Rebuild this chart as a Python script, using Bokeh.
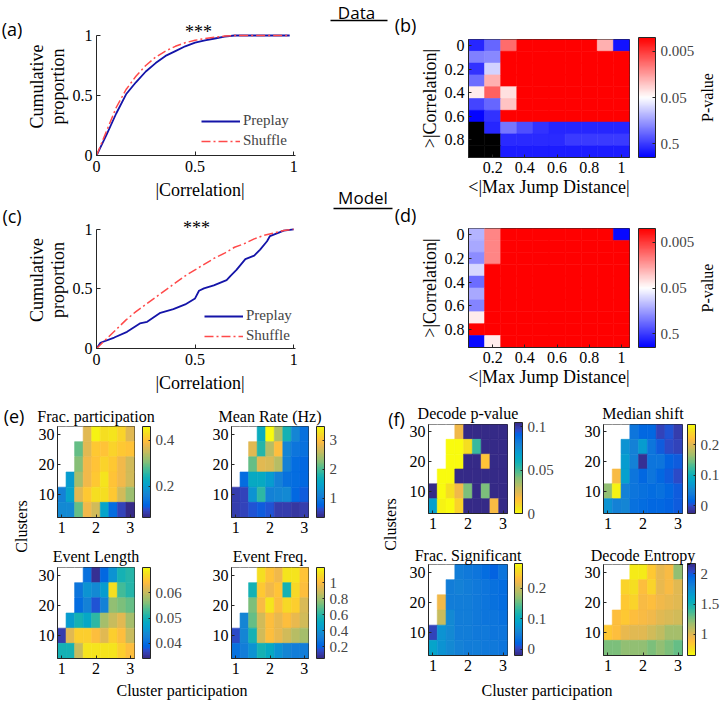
import math
import numpy as np
from bokeh.plotting import figure
from bokeh.layouts import row, column
from bokeh.models import (ColumnDataSource, LinearColorMapper, ColorBar, FixedTicker,
                          Label, Legend, LegendItem, Arrow, Range1d)
from bokeh.embed import file_html
from bokeh.resources import INLINE

nan = float("nan")

# ---------------- data ----------------
# (a) Data: cumulative distributions of |correlation|
a_preplay_x = [0, 0.05, 0.1, 0.15, 0.2, 0.25, 0.3, 0.35, 0.4, 0.45, 0.5, 0.55, 0.6, 0.65, 0.7, 0.8, 0.9, 0.98]
a_preplay_y = [0, 0.17, 0.35, 0.51, 0.61, 0.70, 0.77, 0.83, 0.87, 0.91, 0.94, 0.96, 0.975, 0.99, 1.0, 1.0, 1.0, 1.0]
a_shuffle_x = [0, 0.05, 0.1, 0.15, 0.2, 0.25, 0.3, 0.35, 0.4, 0.45, 0.5, 0.55, 0.6, 0.65, 0.7, 0.8, 0.9, 0.98]
a_shuffle_y = [0, 0.20, 0.40, 0.55, 0.66, 0.75, 0.82, 0.87, 0.91, 0.94, 0.96, 0.975, 0.985, 0.995, 1.0, 1.0, 1.0, 1.0]

# (c) Model
c_preplay_x = [0, 0.02, 0.09, 0.155, 0.22, 0.257, 0.324, 0.39, 0.45, 0.50, 0.52, 0.545, 0.595, 0.66,
               0.68, 0.71, 0.755, 0.80, 0.83, 0.865, 0.88, 0.915, 0.95, 1.0]
c_preplay_y = [0, 0.048, 0.092, 0.14, 0.21, 0.224, 0.30, 0.33, 0.37, 0.42, 0.485, 0.505, 0.53, 0.574,
               0.61, 0.66, 0.75, 0.78, 0.83, 0.90, 0.944, 0.966, 0.99, 1.0]
c_shuffle_x = [0, 0.05, 0.1, 0.15, 0.2, 0.25, 0.3, 0.35, 0.4, 0.45, 0.5, 0.55, 0.6, 0.65, 0.7, 0.75, 0.8,
               0.85, 0.9, 0.95, 1.0]
c_shuffle_y = [0, 0.08, 0.16, 0.24, 0.31, 0.37, 0.43, 0.49, 0.55, 0.61, 0.66, 0.71, 0.76, 0.80, 0.85,
               0.88, 0.92, 0.95, 0.97, 0.99, 1.0]

cdf_ticks = [0, 0.5, 1]
cdf_tick_labels = ["0", "0.5", "1"]

# (b), (d) p-value grids: rows = >|Correlation| threshold, cols = <|Max Jump Distance| threshold
jump_thresholds = [0.1, 0.2, 0.3, 0.4, 0.5, 0.6, 0.7, 0.8, 0.9, 1.0]
corr_thresholds = [0.0, 0.1, 0.2, 0.3, 0.4, 0.5, 0.6, 0.7, 0.8, 0.9]
jump_ticks = [0.2, 0.4, 0.6, 0.8, 1.0]
jump_tick_labels = ["0.2", "0.4", "0.6", "0.8", "1"]
corr_ticks = [0.0, 0.2, 0.4, 0.6, 0.8]
corr_tick_labels = ["0", "0.2", "0.4", "0.6", "0.8"]
pval_ticks = [0.5, 0.05, 0.005]
pval_tick_labels = ["0.5", "0.05", "0.005"]

b_pvalues = [
    [0.63, 0.30, 0.009, 0.001, 0.001, 0.001, 0.001, 0.001, 0.020, 0.80],
    [0.22, 0.20, 0.001, 0.001, 0.001, 0.001, 0.001, 0.001, 0.001, 0.001],
    [0.55, 0.085, 0.001, 0.001, 0.001, 0.001, 0.001, 0.001, 0.001, 0.001],
    [0.28, 0.020, 0.001, 0.001, 0.001, 0.001, 0.001, 0.001, 0.001, 0.001],
    [0.040, 0.008, 0.035, 0.001, 0.001, 0.001, 0.001, 0.001, 0.001, 0.001],
    [0.45, 0.30, 0.025, 0.001, 0.001, 0.001, 0.001, 0.001, 0.001, 0.001],
    [0.95, 0.55, 0.001, 0.001, 0.001, 0.001, 0.001, 0.001, 0.001, 0.001],
    [nan, 0.63, 0.25, 0.40, 0.55, 0.63, 0.63, 0.63, 0.63, 0.63],
    [nan, nan, 0.60, 0.60, 0.60, 0.60, 0.50, 0.50, 0.50, 0.50],
    [nan, nan, 0.72, 0.72, 0.72, 0.72, 0.72, 0.72, 0.72, 0.72],
]
d_pvalues = [
    [0.12, 0.012, 0.001, 0.001, 0.001, 0.001, 0.001, 0.001, 0.001, 0.90],
    [0.14, 0.012, 0.001, 0.001, 0.001, 0.001, 0.001, 0.001, 0.001, 0.001],
    [0.19, 0.012, 0.001, 0.001, 0.001, 0.001, 0.001, 0.001, 0.001, 0.001],
    [0.079, 0.001, 0.001, 0.001, 0.001, 0.001, 0.001, 0.001, 0.001, 0.001],
    [0.28, 0.001, 0.001, 0.001, 0.001, 0.001, 0.001, 0.001, 0.001, 0.001],
    [0.14, 0.001, 0.001, 0.001, 0.001, 0.001, 0.001, 0.001, 0.001, 0.001],
    [0.21, 0.001, 0.001, 0.001, 0.001, 0.001, 0.001, 0.001, 0.001, 0.001],
    [0.040, 0.001, 0.001, 0.001, 0.001, 0.001, 0.001, 0.001, 0.001, 0.001],
    [0.001, 0.001, 0.001, 0.001, 0.001, 0.001, 0.001, 0.001, 0.001, 0.001],
    [0.90, 0.040, 0.001, 0.001, 0.001, 0.001, 0.001, 0.001, 0.001, 0.001],
]

# (e), (f) parameter sweeps: rows = clusters (30 -> 5), cols = cluster participation (1 -> 3)
cluster_participation = [1.0, 1.25, 1.5, 1.75, 2.0, 2.25, 2.5, 2.75, 3.0]
clusters = [30, 25, 20, 15, 10, 5]
part_ticks = [1, 2, 3]
part_tick_labels = ["1", "2", "3"]
cluster_ticks = [10, 20, 30]
cluster_tick_labels = ["10", "20", "30"]

frac_participation = [
    [nan, nan, nan, 0.37, 0.45, 0.43, 0.44, 0.42, 0.37],
    [nan, nan, 0.29, 0.37, 0.41, 0.40, 0.42, 0.41, 0.40],
    [nan, nan, 0.31, 0.38, 0.40, 0.42, 0.41, 0.38, 0.36],
    [nan, 0.20, 0.33, 0.38, 0.41, 0.44, 0.40, 0.38, 0.36],
    [0.16, 0.21, 0.37, 0.41, 0.43, 0.43, 0.41, 0.36, 0.32],
    [0.17, 0.17, 0.29, 0.38, 0.36, 0.21, 0.13, 0.09, 0.07],
]
mean_rate = [
    [nan, nan, nan, 1.66, 3.45, 2.47, 1.75, 1.13, 0.90],
    [nan, nan, 2.79, 1.82, 2.54, 2.95, 1.13, 0.97, 0.90],
    [nan, nan, 2.13, 2.76, 2.73, 2.54, 1.10, 0.85, 0.80],
    [nan, 0.85, 1.60, 1.60, 1.38, 1.10, 0.90, 0.85, 0.80],
    [0.53, 0.58, 1.28, 1.91, 1.10, 1.13, 1.20, 0.82, 0.70],
    [0.53, 0.55, 0.65, 0.72, 0.65, 0.50, 0.50, 0.48, 0.50],
]
event_length = [
    [nan, nan, nan, 0.0405, 0.0347, 0.0394, 0.045, 0.050, 0.051],
    [nan, nan, 0.041, 0.045, 0.044, 0.046, 0.0675, 0.053, 0.051],
    [nan, nan, 0.040, 0.043, 0.0376, 0.043, 0.057, 0.0556, 0.0545],
    [nan, 0.046, 0.050, 0.048, 0.052, 0.058, 0.060, 0.062, 0.058],
    [0.036, 0.062, 0.066, 0.066, 0.064, 0.062, 0.066, 0.064, 0.060],
    [0.050, 0.050, 0.060, 0.068, 0.068, 0.068, 0.068, 0.066, 0.064],
]
event_freq = [
    [nan, nan, nan, 1.11, 1.02, 0.96, 1.12, 1.12, 1.02],
    [nan, nan, 0.56, 1.04, 0.96, 1.02, 0.56, 1.10, 1.00],
    [nan, nan, 0.73, 0.98, 1.12, 1.00, 1.10, 1.06, 0.92],
    [nan, 0.35, 0.70, 0.90, 1.00, 0.95, 1.00, 0.95, 0.90],
    [0.15, 0.35, 0.55, 0.90, 1.00, 0.95, 0.90, 0.85, 0.80],
    [0.25, 0.30, 0.40, 0.55, 0.50, 0.40, 0.35, 0.30, 0.30],
]
decode_pvalue = [
    [nan, nan, nan, 0.021, 0.104, 0.104, 0.104, 0.104, 0.104],
    [nan, nan, 0.0, 0.0, 0.007, 0.052, 0.104, 0.104, 0.104],
    [nan, nan, 0.0, 0.0, 0.104, 0.104, 0.016, 0.104, 0.104],
    [nan, 0.0, 0.0, 0.104, 0.104, 0.104, 0.104, 0.104, 0.104],
    [0.104, 0.0, 0.007, 0.021, 0.042, 0.104, 0.042, 0.104, 0.104],
    [0.068, 0.003, 0.0, 0.010, 0.104, 0.104, 0.104, 0.019, 0.104],
]
median_shift = [
    [nan, nan, nan, 0.032, 0.018, 0.018, -0.006, 0.003, -0.011],
    [nan, nan, 0.062, 0.047, 0.070, 0.032, 0.009, -0.003, -0.006],
    [nan, nan, 0.070, 0.047, -0.020, 0.032, 0.032, 0.012, 0.009],
    [nan, 0.213, 0.076, 0.030, 0.018, 0.032, 0.018, 0.009, -0.003],
    [0.160, 0.257, 0.047, 0.032, 0.025, 0.020, 0.025, 0.018, 0.009],
    [0.062, 0.047, 0.050, 0.025, 0.020, 0.018, 0.016, 0.012, 0.009],
]
frac_significant = [
    [nan, nan, nan, 0.050, 0.045, 0.040, 0.030, 0.020, 0.040],
    [nan, nan, 0.050, 0.055, 0.050, 0.045, 0.040, 0.035, 0.030],
    [nan, 0.220, 0.050, 0.050, 0.050, 0.045, 0.040, 0.035, 0.030],
    [nan, 0.200, 0.060, 0.050, 0.050, 0.045, 0.040, 0.040, 0.035],
    [0.000, 0.070, 0.060, 0.050, 0.050, 0.045, 0.045, 0.040, 0.040],
    [0.090, 0.070, 0.060, 0.055, 0.050, 0.050, 0.045, 0.045, 0.040],
]
decode_entropy = [
    [nan, nan, nan, 0.70, 0.72, 0.85, 0.98, 0.92, 1.20],
    [nan, nan, 0.80, 0.75, 0.90, 0.80, 0.98, 0.92, 1.00],
    [nan, nan, 0.85, 0.80, 0.92, 0.90, 0.95, 0.98, 1.00],
    [nan, 0.90, 0.85, 0.90, 0.92, 0.95, 1.00, 1.02, 1.05],
    [0.85, 0.90, 0.98, 1.00, 1.00, 1.05, 1.10, 1.15, 1.15],
    [1.25, 1.25, 1.20, 1.20, 1.20, 1.25, 1.20, 1.25, 1.30],
]
# colour limits and colour-bar ticks of the sweeps
frac_participation_clim = (0.065, 0.46)
mean_rate_clim = (0.34, 3.48)
event_length_clim = (0.034, 0.070)
event_freq_clim = (0.05, 1.19)
decode_pvalue_clim = (0.0, 0.105)
median_shift_clim = (-0.026, 0.266)
frac_significant_clim = (-0.02, 0.28)
decode_entropy_clim = (0.65, 2.17)
frac_participation_cbticks = [0.2, 0.4]
mean_rate_cbticks = [1, 2, 3]
event_length_cbticks = [0.04, 0.05, 0.06]
event_freq_cbticks = [0.2, 0.4, 0.6, 0.8, 1]
decode_pvalue_cbticks = [0, 0.05, 0.1]
median_shift_cbticks = [0, 0.1, 0.2]
frac_significant_cbticks = [0, 0.1, 0.2]
decode_entropy_cbticks = [1, 1.5, 2]

# ---------------- style ----------------
SERIF = "Liberation Serif"
SANS = "Open Sans"
AX = "#262626"
BLUE = "#1414A8"
RED = "#FF4A4A"

PARULA_RGB = [
    (0.2081, 0.1663, 0.5292), (0.2116, 0.1898, 0.5777), (0.2123, 0.2138, 0.6270), (0.2081, 0.2386, 0.6771),
    (0.1959, 0.2645, 0.7279), (0.1707, 0.2919, 0.7792), (0.1253, 0.3242, 0.8303), (0.0591, 0.3598, 0.8683),
    (0.0117, 0.3875, 0.8820), (0.0060, 0.4086, 0.8828), (0.0165, 0.4266, 0.8786), (0.0329, 0.4430, 0.8720),
    (0.0498, 0.4586, 0.8641), (0.0629, 0.4737, 0.8554), (0.0723, 0.4887, 0.8467), (0.0779, 0.5040, 0.8384),
    (0.0793, 0.5200, 0.8312), (0.0749, 0.5375, 0.8263), (0.0641, 0.5570, 0.8240), (0.0488, 0.5772, 0.8228),
    (0.0343, 0.5966, 0.8199), (0.0265, 0.6137, 0.8135), (0.0239, 0.6287, 0.8038), (0.0231, 0.6418, 0.7913),
    (0.0228, 0.6535, 0.7768), (0.0267, 0.6642, 0.7607), (0.0384, 0.6743, 0.7436), (0.0590, 0.6838, 0.7254),
    (0.0843, 0.6928, 0.7062), (0.1133, 0.7015, 0.6859), (0.1453, 0.7098, 0.6646), (0.1801, 0.7177, 0.6424),
    (0.2178, 0.7250, 0.6193), (0.2586, 0.7317, 0.5954), (0.3022, 0.7376, 0.5712), (0.3482, 0.7424, 0.5473),
    (0.3953, 0.7459, 0.5244), (0.4420, 0.7481, 0.5033), (0.4871, 0.7491, 0.4840), (0.5300, 0.7491, 0.4661),
    (0.5709, 0.7485, 0.4494), (0.6099, 0.7473, 0.4337), (0.6473, 0.7456, 0.4188), (0.6834, 0.7435, 0.4044),
    (0.7184, 0.7411, 0.3905), (0.7525, 0.7384, 0.3768), (0.7858, 0.7356, 0.3633), (0.8185, 0.7327, 0.3498),
    (0.8507, 0.7299, 0.3360), (0.8824, 0.7274, 0.3217), (0.9139, 0.7258, 0.3063), (0.9450, 0.7261, 0.2886),
    (0.9739, 0.7314, 0.2666), (0.9938, 0.7455, 0.2403), (0.9990, 0.7653, 0.2164), (0.9955, 0.7861, 0.1967),
    (0.9880, 0.8066, 0.1794), (0.9789, 0.8271, 0.1633), (0.9697, 0.8481, 0.1475), (0.9626, 0.8705, 0.1309),
    (0.9589, 0.8949, 0.1132), (0.9598, 0.9218, 0.0948), (0.9661, 0.9514, 0.0755), (0.9763, 0.9831, 0.0538),
]
PARULA = ["#%02x%02x%02x" % tuple(int(round(c * 255)) for c in rgb) for rgb in PARULA_RGB]
PARULA_R = PARULA[::-1]


def _bwr():
    out = []
    for i in range(256):
        t = i / 255.0
        if t < 0.5:
            s = t / 0.5
            out.append("#%02x%02x%02x" % (int(255 * s), int(255 * s), 255))
        else:
            s = (t - 0.5) / 0.5
            out.append("#%02x%02x%02x" % (255, int(255 * (1 - s)), int(255 * (1 - s))))
    return out


BWR = _bwr()


def make_fig(canvas, frame, **kw):
    cx0, cy0, cx1, cy1 = canvas
    fx0, fy0, fx1, fy1 = frame
    p = figure(width=cx1 - cx0, height=cy1 - cy0, output_backend="svg", toolbar_location=None,
               min_border_left=fx0 - cx0, min_border_right=cx1 - fx1,
               min_border_top=fy0 - cy0, min_border_bottom=cy1 - fy1, **kw)
    p.background_fill_color = "white"
    p.border_fill_color = "white"
    for g in list(p.xgrid) + list(p.ygrid):
        g.visible = False
    return p


def blank_fig(canvas, frame=None):
    cx0, cy0, cx1, cy1 = canvas
    fx0, fy0, fx1, fy1 = frame if frame is not None else canvas
    p = figure(width=cx1 - cx0, height=cy1 - cy0, output_backend="svg", toolbar_location=None,
               x_range=Range1d(0, 1), y_range=Range1d(0, 1), x_axis_type=None, y_axis_type=None,
               min_border_left=fx0 - cx0, min_border_right=cx1 - fx1,
               min_border_top=fy0 - cy0, min_border_bottom=cy1 - fy1,
               outline_line_color=None, title=None)
    p.background_fill_color = "white"
    p.border_fill_color = "white"
    return p


def style_axes(p, tick_size="16px", label_size="18px", tick_in=4):
    for ax in list(p.xaxis) + list(p.yaxis):
        ax.axis_line_color = AX
        ax.axis_line_width = 1
        ax.major_tick_line_color = AX
        ax.minor_tick_line_color = None
        ax.major_tick_in = tick_in
        ax.major_tick_out = 0
        ax.major_label_text_font = SERIF
        ax.major_label_text_font_size = tick_size
        ax.major_label_text_color = "black"
        ax.major_label_standoff = 4
        ax.axis_label_text_font = SERIF
        ax.axis_label_text_font_size = label_size
        ax.axis_label_text_font_style = "normal"
        ax.axis_label_text_color = "black"
        ax.axis_label_standoff = 2


def set_ticks(axis, ticks, labels):
    axis.ticker = FixedTicker(ticks=list(ticks))
    axis.major_label_overrides = {t: l for t, l in zip(ticks, labels)}


def add_text(p, frame, px, py, text, font=SERIF, size="16px", align="center", angle=0.0):
    # px, py: page position of the text's middle; converted to offsets from the frame
    p.add_layout(Label(x=px - frame[0], y=frame[3] - py, x_units="screen", y_units="screen",
                       text=text, text_font=font, text_font_size=size, text_align=align,
                       text_baseline="middle", angle=angle, text_color="black"))


def add_rule(p, frame, x0, x1, py):
    p.add_layout(Arrow(end=None, x_start=x0 - frame[0], x_end=x1 - frame[0],
                       y_start=frame[3] - py, y_end=frame[3] - py,
                       start_units="screen", end_units="screen",
                       line_color="black", line_width=1.3))


# ---------------- CDF panels ----------------
def cdf_panel(canvas, frame, px, py, sx, sy, legend_loc, star_x, star_y):
    p = make_fig(canvas, frame, x_range=Range1d(0, 1.05), y_range=Range1d(0, 1.15))
    p.outline_line_color = None
    r_pre = p.line(px, py, line_color=BLUE, line_width=1.8)
    r_sh = p.line(sx, sy, line_color=RED, line_width=1.5, line_dash="9 3 2 3")
    style_axes(p)
    set_ticks(p.xaxis[0], cdf_ticks, cdf_tick_labels)
    set_ticks(p.yaxis[0], cdf_ticks, cdf_tick_labels)
    p.yaxis.bounds = (0, 1)
    p.xaxis.bounds = (0, 1.01)
    p.xaxis.axis_label = "|Correlation|"
    p.yaxis.axis_label = "Cumulative\nproportion"
    p.yaxis.axis_label_text_line_height = 1.05
    p.yaxis.major_label_standoff = 4
    p.yaxis.axis_label_standoff = 2
    p.xaxis.major_label_standoff = 5
    p.xaxis.axis_label_standoff = 5
    leg = Legend(items=[LegendItem(label="Preplay", renderers=[r_pre]),
                        LegendItem(label="Shuffle", renderers=[r_sh])],
                 location=legend_loc, glyph_width=39, glyph_height=16, label_height=16,
                 spacing=3, padding=0, margin=0, label_standoff=3,
                 border_line_color=None, background_fill_alpha=0,
                 label_text_font=SERIF, label_text_font_size="15px")
    p.add_layout(leg)
    add_text(p, frame, star_x, star_y, "***", size="18px")
    return p


# ---------------- p-value panels ----------------
def pval_panel(canvas, frame, pmat):
    xs, ys, vs = [], [], []
    for i, c in enumerate(corr_thresholds):
        for j, jd in enumerate(jump_thresholds):
            xs.append(jd)
            ys.append(c)
            vs.append(pmat[i][j])
    logp = -np.log10(np.array(vs, dtype=float))
    src = ColumnDataSource(dict(x=xs, y=ys, logp=logp))
    mapper = LinearColorMapper(palette=BWR, low=0.0, high=2 * -math.log10(0.05), nan_color="black")
    p = make_fig(canvas, frame, x_range=Range1d(0.05, 1.05), y_range=Range1d(0.95, -0.05))
    p.outline_line_color = AX
    p.rect("x", "y", width=0.1, height=0.1, source=src,
           fill_color={"field": "logp", "transform": mapper},
           line_color={"field": "logp", "transform": mapper}, line_width=0.6)
    style_axes(p, tick_in=3)
    set_ticks(p.xaxis[0], jump_ticks, jump_tick_labels)
    set_ticks(p.yaxis[0], corr_ticks, corr_tick_labels)
    p.xaxis.axis_label = "<|Max Jump Distance|"
    p.yaxis.axis_label = ">|Correlation|"
    p.xaxis.axis_label_standoff = 1
    return p, mapper


def pval_side(canvas, mapper, cb_top, cb_bottom):
    frame = (canvas[0], canvas[1], canvas[2], cb_bottom)
    s = blank_fig(canvas, frame)
    cb_vals = [-math.log10(v) for v in pval_ticks]
    cb = ColorBar(color_mapper=mapper, location=(638 - canvas[0], 0),
                  orientation="vertical", width=17, height=cb_bottom - cb_top, padding=0, margin=0,
                  ticker=FixedTicker(ticks=cb_vals),
                  major_label_overrides={v: l for v, l in zip(cb_vals, pval_tick_labels)},
                  label_standoff=5, major_label_text_font=SERIF, major_label_text_font_size="15px",
                  major_tick_line_color=AX, major_tick_in=3, major_tick_out=0,
                  bar_line_color=AX, border_line_color=None, background_fill_alpha=0)
    s.add_layout(cb)
    add_text(s, frame, 707, (cb_top + cb_bottom) / 2, "P-value", size="16px", angle=math.pi / 2)
    return s


# ---------------- sweep heatmaps ----------------
def sweep_panel(canvas, frame, title, title_standoff, mat, clim, palette, cb_x, cb_ticks):
    xs, ys, vs = [], [], []
    for i, c in enumerate(clusters):
        for j, cp in enumerate(cluster_participation):
            xs.append(cp)
            ys.append(c)
            vs.append(mat[i][j])
    src = ColumnDataSource(dict(x=xs, y=ys, v=np.array(vs, dtype=float)))
    mapper = LinearColorMapper(palette=palette, low=clim[0], high=clim[1], nan_color="white")
    p = make_fig(canvas, frame, x_range=Range1d(0.875, 3.125), y_range=Range1d(2.5, 32.5))
    p.outline_line_color = AX
    p.rect("x", "y", width=0.25, height=5, source=src,
           fill_color={"field": "v", "transform": mapper},
           line_color={"field": "v", "transform": mapper}, line_width=0.6)
    style_axes(p, tick_size="16px", tick_in=3)
    set_ticks(p.xaxis[0], part_ticks, part_tick_labels)
    set_ticks(p.yaxis[0], cluster_ticks, cluster_tick_labels)
    p.xaxis.major_label_standoff = 4
    p.yaxis.major_label_standoff = 3
    p.title.text = title
    p.title.align = "center"
    p.title.text_font = SERIF
    p.title.text_font_size = "16px"
    p.title.text_font_style = "normal"
    p.title.text_color = "black"
    p.title.standoff = title_standoff
    fh = frame[3] - frame[1]
    cb = ColorBar(color_mapper=mapper, location=(cb_x - frame[0], 0), orientation="vertical",
                  width=8, height=fh, padding=0, margin=0,
                  ticker=FixedTicker(ticks=list(cb_ticks)),
                  major_label_overrides={t: ("%g" % t) for t in cb_ticks},
                  label_standoff=5, major_label_text_font=SERIF, major_label_text_font_size="15px",
                  major_tick_line_color=AX, major_tick_in=2, major_tick_out=0,
                  bar_line_color=AX, border_line_color=None, background_fill_alpha=0)
    p.add_layout(cb)
    return p


# ---------------- build ----------------
LT = (0, 0, 22, 400)
fl_top = blank_fig(LT)
add_text(fl_top, LT, 11.5, 28, "(a)", font=SANS, size="18px")
add_text(fl_top, LT, 11.5, 215, "(c)", font=SANS, size="18px")

FA = (96, 17, 303, 155)
fa = cdf_panel((22, 0, 320, 203), FA, a_preplay_x, a_preplay_y, a_shuffle_x, a_shuffle_y,
               (105, 6), 198, 31)
FC = (96, 211, 303, 348)
fc = cdf_panel((22, 203, 320, 400), FC, c_preplay_x, c_preplay_y, c_shuffle_x, c_shuffle_y,
               (108, 4), 196, 227.5)

HEAD = (320, 0, 416, 400)
fhead = blank_fig(HEAD)
add_text(fhead, HEAD, 356, 11.5, "Data", font=SANS, size="17px")
add_rule(fhead, HEAD, 330, 387, 20)
add_text(fhead, HEAD, 362.5, 197, "Model", font=SANS, size="17px")
add_rule(fhead, HEAD, 333, 392, 208)
add_text(fhead, HEAD, 405, 24, "(b)", font=SANS, size="18px")
add_text(fhead, HEAD, 405, 214, "(d)", font=SANS, size="18px")

fb, fb_map = pval_panel((416, 0, 632, 202), (466, 39, 629, 157), b_pvalues)
fbs = pval_side((632, 0, 720, 202), fb_map, 37, 157)
fd, fd_map = pval_panel((416, 202, 632, 400), (467, 228, 629, 347), d_pvalues)
fds = pval_side((632, 202, 720, 400), fd_map, 228, 347)

e1 = sweep_panel((32, 400, 185, 543), (57, 426, 134, 517), "Frac. participation", 3,
                 frac_participation, frac_participation_clim, PARULA, 142, frac_participation_cbticks)
e2 = sweep_panel((185, 400, 360, 543), (231, 426, 308, 517), "Mean Rate (Hz)", 3,
                 mean_rate, mean_rate_clim, PARULA, 316, mean_rate_cbticks)
e3 = sweep_panel((32, 543, 185, 683), (57, 567, 134, 658), "Event Length", 5,
                 event_length, event_length_clim, PARULA, 142, event_length_cbticks)
e4 = sweep_panel((185, 543, 360, 683), (231, 567, 308, 658), "Event Freq.", 5,
                 event_freq, event_freq_clim, PARULA, 316, event_freq_cbticks)
f1 = sweep_panel((405, 400, 560, 543), (428, 422, 507, 513), "Decode p-value", 5,
                 decode_pvalue, decode_pvalue_clim, PARULA_R, 514, decode_pvalue_cbticks)
f2 = sweep_panel((560, 400, 720, 543), (603, 424, 682, 513), "Median shift", 5,
                 median_shift, median_shift_clim, PARULA, 687, median_shift_cbticks)
f3 = sweep_panel((405, 543, 560, 683), (428, 563, 507, 655), "Frac. Significant", 2,
                 frac_significant, frac_significant_clim, PARULA, 514, frac_significant_cbticks)
f4 = sweep_panel((560, 543, 720, 683), (603, 563, 682, 655), "Decode Entropy", 2,
                 decode_entropy, decode_entropy_clim, PARULA_R, 687, decode_entropy_cbticks)

EL = (0, 400, 32, 683)
fel = blank_fig(EL)
add_text(fel, EL, 13.5, 415, "(e)", font=SANS, size="18px")
add_text(fel, EL, 21, 526, "Clusters", size="16px", angle=math.pi / 2)
FL = (360, 400, 405, 683)
ffl = blank_fig(FL)
add_text(ffl, FL, 396, 418, "(f)", font=SANS, size="18px")
add_text(ffl, FL, 390, 524, "Clusters", size="16px", angle=math.pi / 2)
ST = (0, 683, 720, 703)
strip = blank_fig(ST)
add_text(strip, ST, 181.5, 689.5, "Cluster participation", size="16px")
add_text(strip, ST, 546.5, 689.5, "Cluster participation", size="16px")

top = row(fl_top, column(fa, fc), fhead, column(row(fb, fbs), row(fd, fds)))
bottom = column(row(fel, column(e1, e3), column(e2, e4), ffl, column(f1, f3), column(f2, f4)), strip)
layout = column(top, bottom)

open("out.html", "w").write(file_html(layout, INLINE, title="Preplay figure"))
